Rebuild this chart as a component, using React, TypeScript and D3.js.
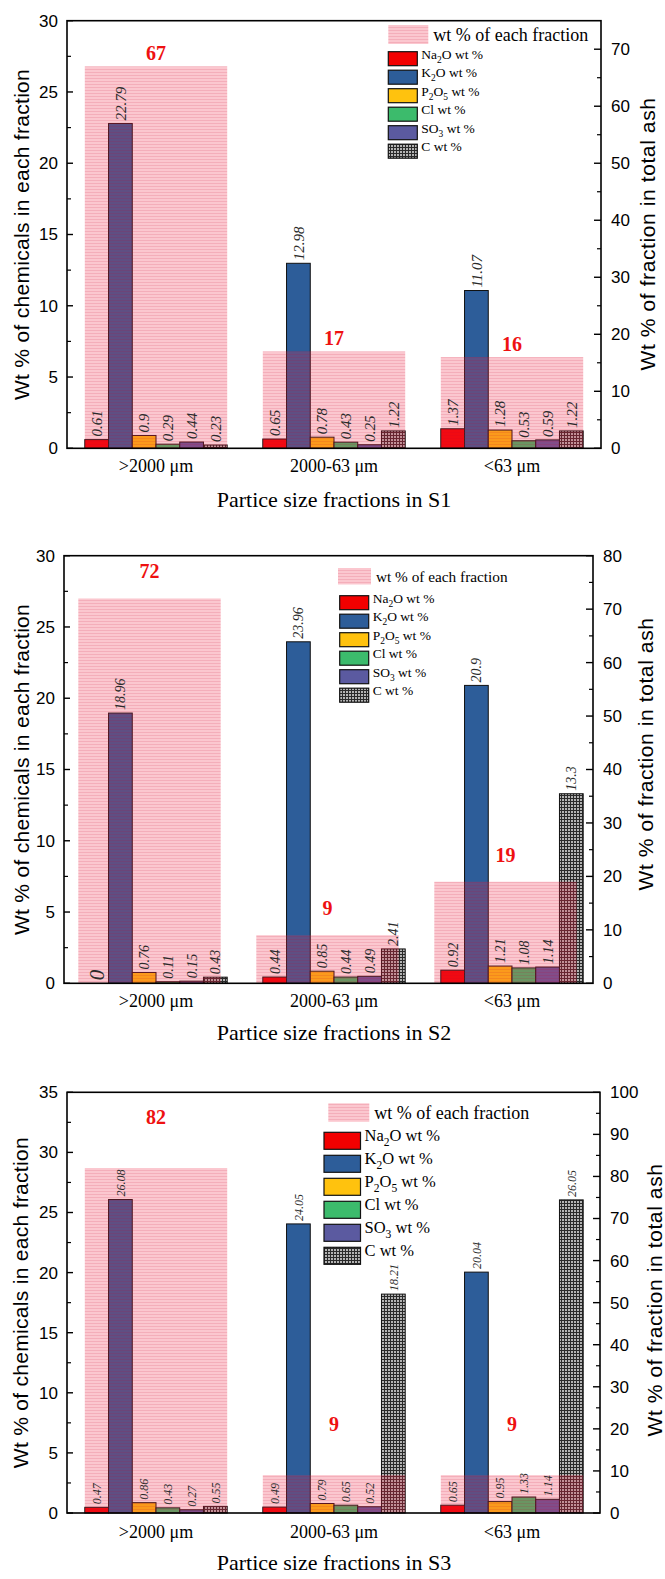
import React from "react";
import * as d3 from "d3";

const categories = [">2000 μm", "2000-63 μm", "<63 μm"];
const chemicals = ["Na2O", "K2O", "P2O5", "Cl", "SO3", "C"];

// rows follow the chemicals order, columns follow the categories
const s1Values = [
  [0.61, 0.65, 1.37],
  [22.79, 12.98, 11.07],
  [0.9, 0.78, 1.28],
  [0.29, 0.43, 0.53],
  [0.44, 0.25, 0.59],
  [0.23, 1.22, 1.22],
];
const s1Fractions = [67, 17, 16];

const s2Values = [
  [0, 0.44, 0.92],
  [18.96, 23.96, 20.9],
  [0.76, 0.85, 1.21],
  [0.11, 0.44, 1.08],
  [0.15, 0.49, 1.14],
  [0.43, 2.41, 13.3],
];
const s2Fractions = [72, 9, 19];

const s3Values = [
  [0.47, 0.49, 0.65],
  [26.08, 24.05, 20.04],
  [0.86, 0.79, 0.95],
  [0.43, 0.65, 1.33],
  [0.27, 0.52, 1.14],
  [0.55, 18.21, 26.05],
];
const s3Fractions = [82, 9, 9];

const colors = ["#f20000", "#2d5d99", "#ffc20e", "#3cbb6c", "#5b5aa0", "url(#grid)"];

const SANS = "'Liberation Sans', Arial, sans-serif";
const SERIF = "'Liberation Serif', 'Times New Roman', serif";

const panels = [
  {
    key: "s1", title: "Partice size fractions in S1", values: s1Values, fractions: s1Fractions,
    leftMax: 30, rightMax: 75, top: 20.7, bottom: 448.3, left: 67, right: 601,
    bandShift: 0, fracGap: 13, valueFont: 15, rightTitleX: 648, rightTitleY: 234,
    leftTitleX: 22, catY: 471.5, titleY: 507,
    legend: { x: 388.3, y: 25, sw: 40, sh: 19, font: 18, ix: 388.3, iy: 51.7, iw: 29, ih: 14, step: 18.5, ifont: 13.5 },
  },
  {
    key: "s2", title: "Partice size fractions in S2", values: s2Values, fractions: s2Fractions,
    leftMax: 30, rightMax: 80, top: 555.7, bottom: 983.3, left: 64, right: 593,
    bandShift: -6.5, fracGap: 27, valueFont: 14, rightTitleX: 646, rightTitleY: 754,
    leftTitleX: 22, catY: 1006.5, titleY: 1040,
    legend: { x: 338, y: 568, sw: 33, sh: 16.5, font: 15.3, ix: 339.7, iy: 595.7, iw: 29, ih: 14, step: 18.5, ifont: 13.5 },
  },
  {
    key: "s3", title: "Partice size fractions in S3", values: s3Values, fractions: s3Fractions,
    leftMax: 35, rightMax: 100, top: 1092.3, bottom: 1513, left: 67, right: 600,
    bandShift: 0, fracGap: 51, valueFont: 12, rightTitleX: 655, rightTitleY: 1300,
    leftTitleX: 21, catY: 1537.5, titleY: 1570,
    legend: { x: 328.3, y: 1103.3, sw: 41, sh: 18.5, font: 18, ix: 324, iy: 1132.3, iw: 36.5, ih: 17, step: 23, ifont: 16.5 },
  },
];

const x = d3.scaleBand<string>().domain(categories).range([67, 601]).paddingInner(0.2).paddingOuter(0.1);
const xs = d3.scaleBand<string>().domain(chemicals).range([0, x.bandwidth()]).padding(0);

// chemical formula with subscripted digits
const ChemLabel = ({ name, size }: { name: string; size: number }) => {
  const parts = name.split(/(\d)/).filter((s) => s !== "");
  const d = size * 0.3;
  let down = false;
  const out: React.ReactNode[] = [];
  parts.forEach((s, i) => {
    const isNum = /^\d$/.test(s);
    if (isNum) {
      out.push(<tspan key={i} dy={d} fontSize={size * 0.7}>{s}</tspan>);
      down = true;
    } else {
      out.push(<tspan key={i} dy={down ? -d : 0}>{s}</tspan>);
      down = false;
    }
  });
  out.push(<tspan key="u" dy={down ? -d : 0}> wt %</tspan>);
  return <>{out}</>;
};

const Panel = ({ p }: { p: (typeof panels)[number] }) => {
  const yL = d3.scaleLinear().domain([0, p.leftMax]).range([p.bottom, p.top]);
  const yR = d3.scaleLinear().domain([0, p.rightMax]).range([p.bottom, p.top]);
  const leftMajor = d3.range(0, p.leftMax + 0.01, 5);
  const leftMinor = d3.range(2.5, p.leftMax, 5);
  const rightMajor = d3.range(0, p.rightMax + 0.01, 10);
  const rightMinor = d3.range(5, p.rightMax, 10);
  const L = p.legend;

  return (
    <g>
      {/* bars */}
      {categories.map((c, ci) =>
        chemicals.map((s, si) => {
          const v = p.values[si][ci];
          const bx = x(c)! + xs(s)!;
          return (
            <rect key={c + s} x={bx} y={yL(v)} width={xs.bandwidth()} height={p.bottom - yL(v)}
              fill={colors[si]} stroke="#111" strokeWidth={1} />
          );
        })
      )}
      {/* fraction bands on the right axis, drawn over the bars */}
      {categories.map((c, ci) => (
        <rect key={"band" + c} x={x(c)! + p.bandShift} y={yR(p.fractions[ci])} width={x.bandwidth()}
          height={p.bottom - yR(p.fractions[ci])} fill="url(#band)" />
      ))}
      {categories.map((c, ci) => (
        <text key={"fl" + c} x={x(c)! + p.bandShift + x.bandwidth() / 2} y={yR(p.fractions[ci]) - p.fracGap}
          dy="0.35em" textAnchor="middle" fill="#ee1111" fontFamily={SERIF} fontWeight="bold" fontSize={20}>
          {p.fractions[ci]}
        </text>
      ))}
      {/* value labels */}
      {categories.map((c, ci) =>
        chemicals.map((s, si) => {
          const v = p.values[si][ci];
          const cx = x(c)! + xs(s)! + xs.bandwidth() / 2;
          const cy = yL(v) - 3;
          return (
            <text key={"vl" + c + s} transform={`translate(${cx},${cy}) rotate(-90)`} dy="0.35em"
              fontFamily={SERIF} fontStyle="italic" fontSize={v === 0 ? p.valueFont * 1.5 : p.valueFont} fill="#2a2a2a">
              {v}
            </text>
          );
        })
      )}
      {/* frame */}
      <rect x={p.left} y={p.top} width={p.right - p.left} height={p.bottom - p.top} fill="none" stroke="#000" strokeWidth={1.6} />
      {leftMajor.map((t) => (
        <g key={"lt" + t}>
          <line x1={p.left} x2={p.left + 6} y1={yL(t)} y2={yL(t)} stroke="#000" strokeWidth={1.4} />
          <text x={p.left - 9} y={yL(t)} dy="0.35em" textAnchor="end" fontFamily={SANS} fontSize={17}>{t}</text>
        </g>
      ))}
      {leftMinor.map((t) => (
        <line key={"lm" + t} x1={p.left} x2={p.left + 4} y1={yL(t)} y2={yL(t)} stroke="#000" strokeWidth={1.2} />
      ))}
      {rightMajor.map((t) => (
        <g key={"rt" + t}>
          <line x1={p.right} x2={p.right - 7} y1={yR(t)} y2={yR(t)} stroke="#000" strokeWidth={1.4} />
          <text x={p.right + 10} y={yR(t)} dy="0.35em" textAnchor="start" fontFamily={SANS} fontSize={17}>{t}</text>
        </g>
      ))}
      {rightMinor.map((t) => (
        <line key={"rm" + t} x1={p.right} x2={p.right - 4} y1={yR(t)} y2={yR(t)} stroke="#000" strokeWidth={1.2} />
      ))}
      {categories.map((c) => (
        <text key={"cat" + c} x={x(c)! + x.bandwidth() / 2} y={p.catY} textAnchor="middle" fontFamily={SERIF} fontSize={18}>{c}</text>
      ))}
      <text x={334} y={p.titleY} textAnchor="middle" fontFamily={SERIF} fontSize={22}>{p.title}</text>
      <text transform={`translate(${p.leftTitleX},${(p.top + p.bottom) / 2}) rotate(-90)`} dy="0.35em" textAnchor="middle"
        fontFamily={SANS} fontSize={21} letterSpacing={0.3}>Wt % of chemicals in each fraction</text>
      <text transform={`translate(${p.rightTitleX},${p.rightTitleY}) rotate(-90)`} dy="0.35em" textAnchor="middle"
        fontFamily={SANS} fontSize={21} letterSpacing={0.6}>Wt % of fraction in total ash</text>
      {/* legend */}
      <rect x={L.x} y={L.y} width={L.sw} height={L.sh} fill="url(#band)" />
      <text x={L.x + L.sw + 5} y={L.y + L.sh / 2} dy="0.35em" fontFamily={SERIF} fontSize={L.font}>wt % of each fraction</text>
      {chemicals.map((s, si) => (
        <g key={"lg" + s}>
          <rect x={L.ix} y={L.iy + si * L.step} width={L.iw} height={L.ih} fill={colors[si]} stroke="#111" strokeWidth={1.2} />
          <text x={L.ix + L.iw + 4} y={L.iy + si * L.step + L.ih / 2} dy="0.35em" fontFamily={SERIF} fontSize={L.ifont}>
            <ChemLabel name={s} size={L.ifont} />
          </text>
        </g>
      ))}
    </g>
  );
};

export default function App() {
  return (
    <svg width={665} height={1579} style={{ position: "absolute", left: 0, top: 0, background: "#fff" }}>
      <defs>
        <pattern id="band" patternUnits="userSpaceOnUse" width={4} height={3}>
          <rect width={4} height={3} fill="rgba(240,40,70,0.26)" />
          <rect width={4} height={1} fill="rgba(190,0,40,0.13)" />
        </pattern>
        <pattern id="grid" patternUnits="userSpaceOnUse" width={3} height={3}>
          <rect width={3} height={3} fill="#b4b4b4" />
          <rect width={3} height={1} fill="#2a2a2a" />
          <rect width={1} height={3} fill="#2a2a2a" />
        </pattern>
      </defs>
      <rect width={665} height={1579} fill="#fff" />
      {panels.map((p) => (
        <Panel key={p.key} p={p} />
      ))}
    </svg>
  );
}
